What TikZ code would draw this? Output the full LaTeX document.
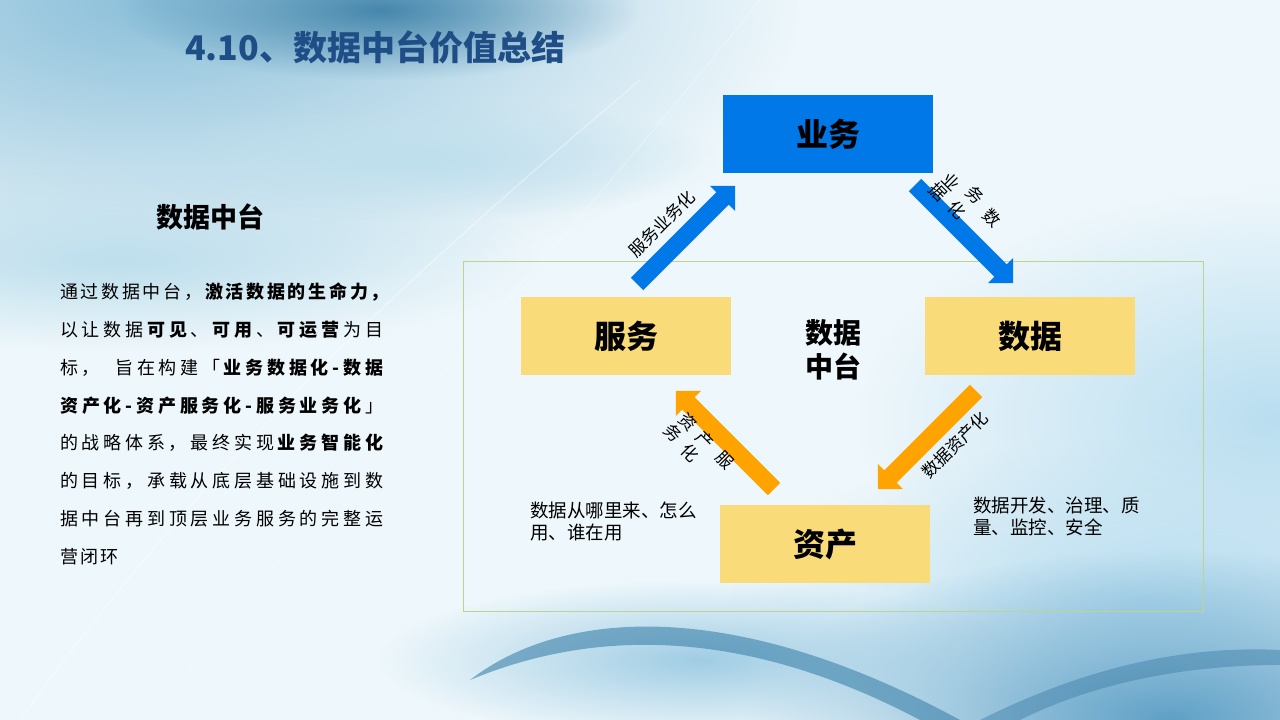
\documentclass[tikz,border=0pt]{standalone}
\usepackage{fontspec}
\setmainfont{Noto Sans CJK SC}
\usetikzlibrary{fadings}
\definecolor{bgbase}{RGB}{238,247,251}
\definecolor{titleblue}{RGB}{31,78,134}
\definecolor{boxblue}{RGB}{0,120,232}
\definecolor{boxyellow}{RGB}{250,219,122}
\definecolor{arrorange}{RGB}{255,163,0}
\definecolor{framegreen}{RGB}{188,212,140}
\definecolor{bgtl}{RGB}{140,192,218}
\definecolor{bgdark}{RGB}{70,135,172}
\definecolor{bgband}{RGB}{190,223,237}
\definecolor{bgright}{RGB}{185,222,240}
\definecolor{bgbr}{RGB}{95,160,198}
\definecolor{bgstreak}{RGB}{60,125,165}
\definecolor{bgglow}{RGB}{160,205,228}
\definecolor{swoosh}{RGB}{60,130,170}
\tikzfading[name=softblob, inner color=transparent!0, outer color=transparent!100]
\begin{document}
\begin{tikzpicture}[x=1pt,y=1pt,
  box/.style={minimum width=210pt, minimum height=78pt, inner sep=0pt, font=\fontsize{32}{38}\selectfont\bfseries},
  para/.style={anchor=west, inner sep=0pt, font=\fontsize{18}{22}\selectfont},
  lbl/.style={inner sep=0pt, font=\fontsize{17}{20}\selectfont},
  note/.style={anchor=west, inner sep=0pt, font=\fontsize{18.5}{22}\selectfont},
  blob/.style={fill=#1, path fading=softblob},
  blockarrow/.pic={
    \fill[#1] (0,-8.8) -- (121,-8.8) -- (121,-17.7) -- (138.6,0) -- (121,17.7) -- (121,8.8) -- (0,8.8) -- cycle;
  }
]
\useasboundingbox (0,0) rectangle (1280,720);
% ---------- background ----------
\begin{scope}
\clip (0,0) rectangle (1280,720);
\fill[bgbase] (0,0) rectangle (1280,720);
% blob: centre (cx,cy), radius (rx,ry): rectangle (cx-rx,cy-ry) -- (cx+rx,cy+ry)
\fill[blob=bgtl] (150-650,720-300) rectangle (150+650,720+300);
\fill[blob=bgdark] (380-260,710-70) rectangle (380+260,710+70);
\fill[blob=bgband] (120-420,460-90) rectangle (120+420,460+90);
\fill[blob=bgband] (420-300,560-60) rectangle (420+300,560+60);
\fill[blob=bgright] (1280-420,300-230) rectangle (1280+420,300+230);
\fill[blob=bgright] (1150-420,120-160) rectangle (1150+420,120+160);
\fill[blob=bgbr] (1170-420,0-170) rectangle (1170+420,0+170);
\fill[blob=bgglow] (700-320,60-80) rectangle (700+320,60+80);
\fill[swoosh, opacity=.6] (470,40) .. controls (560,110) and (730,125) .. (960,0) -- (920,0) .. controls (740,95) and (590,90) .. (470,40) -- cycle;
\fill[bgstreak, opacity=.45] (980,0) .. controls (1080,50) and (1180,75) .. (1280,70) -- (1280,55) .. controls (1180,55) and (1090,35) .. (1020,0) -- cycle;
\draw[white, opacity=.35, line width=1.5pt] (20,0) .. controls (200,250) and (380,420) .. (640,640);
\draw[white, opacity=.3, line width=1pt] (150,0) .. controls (300,200) and (520,420) .. (760,720);
\end{scope}
% ---------- frame ----------
\node[draw=framegreen, line width=1pt, minimum width=740pt, minimum height=350pt, inner sep=0pt] (frame) at (833,283) {};
% ---------- title & left text ----------
\node[anchor=west, inner sep=0pt, text=titleblue, font=\fontsize{34}{40}\selectfont\bfseries] (title) at (185,673) {4.10、数据中台价值总结};
\node[inner sep=0pt, font=\fontsize{27}{32}\selectfont\bfseries] (head) at (210,503) {数据中台};
\node[para] (p1) at (60,428) {\makebox[323pt][s]{通 过 数 据 中 台 ， \textbf{激 活 数 据 的 生 命 力 ，}}};
\node[para] (p2) at (60,390.2) {\makebox[323pt][s]{以 让 数 据 \textbf{可 见} 、 \textbf{可 用} 、 \textbf{可 运 营} 为 目}};
\node[para] (p3) at (60,352.4) {\makebox[323pt][s]{标 ， \hspace{8pt} 旨 在 构 建 「 \textbf{业 务 数 据 化 - 数 据}}};
\node[para] (p4) at (60,314.6) {\makebox[323pt][s]{\textbf{资 产 化 - 资 产 服 务 化 - 服 务 业 务 化} 」}};
\node[para] (p5) at (60,276.8) {\makebox[323pt][s]{的 战 略 体 系 ， 最 终 实 现 \textbf{业 务 智 能 化}}};
\node[para] (p6) at (60,239) {\makebox[323pt][s]{的 目 标 ， 承 载 从 底 层 基 础 设 施 到 数}};
\node[para] (p7) at (60,201.2) {\makebox[323pt][s]{据 中 台 再 到 顶 层 业 务 服 务 的 完 整 运}};
\node[para] (p8) at (60,163.4) {营\hspace{2pt}闭\hspace{2pt}环};
% ---------- boxes ----------
\node[box, fill=boxblue] (yewu) at (828,586) {业务};
\node[box, fill=boxyellow] (fuwu) at (626,384) {服务};
\node[box, fill=boxyellow] (shuju) at (1030,384) {数据};
\node[box, fill=boxyellow] (zichan) at (825,175.5) {资产};
\node[align=center, inner sep=0pt, font=\fontsize{28}{34}\selectfont\bfseries] (center) at (833,370) {数据\\中台};
% ---------- block arrows ----------
\coordinate (a1t) at (637,436);  \coordinate (a1h) at (735,534);
\coordinate (a2t) at (915,535);  \coordinate (a2h) at (1013,437);
\coordinate (a3t) at (774,231);  \coordinate (a3h) at (676,329);
\coordinate (a4t) at (976,329);  \coordinate (a4h) at (878,231);
\pic[rotate=45] at (a1t) {blockarrow=boxblue};
\pic[rotate=-45] at (a2t) {blockarrow=boxblue};
\pic[rotate=135] at (a3t) {blockarrow=arrorange};
\pic[rotate=-135] at (a4t) {blockarrow=arrorange};
% ---------- arrow labels ----------
\node[lbl, rotate=45] (l1) at (662,496) {服务业务化};
\node[lbl, rotate=45] (l4) at (955,275) {数据资产化};
\node[lbl, rotate=-45] (l2a) at (951.7,538.3) {业};
\node[lbl, rotate=-45] (l2b) at (975,525) {务};
\node[lbl, rotate=-45] (l2c) at (991.7,501.7) {数};
\node[lbl, rotate=-45] (l2d) at (938.3,528.3) {据};
\node[lbl, rotate=-45] (l2e) at (956.7,510) {化};
\node[lbl, rotate=-45] (l3a) at (688.3,298.3) {资};
\node[lbl, rotate=-45] (l3b) at (705,280) {产};
\node[lbl, rotate=-45] (l3c) at (725,260) {服};
\node[lbl, rotate=-45] (l3d) at (673.3,286.7) {务};
\node[lbl, rotate=-45] (l3e) at (690,266.7) {化};
% ---------- notes ----------
\node[note] (n1) at (530,210) {数据从哪里来、怎么};
\node[note] (n2) at (530,187) {用、谁在用};
\node[note] (n3) at (973,215) {数据开发、治理、质};
\node[note] (n4) at (973,193) {量、监控、安全};
\end{tikzpicture}
\end{document}
